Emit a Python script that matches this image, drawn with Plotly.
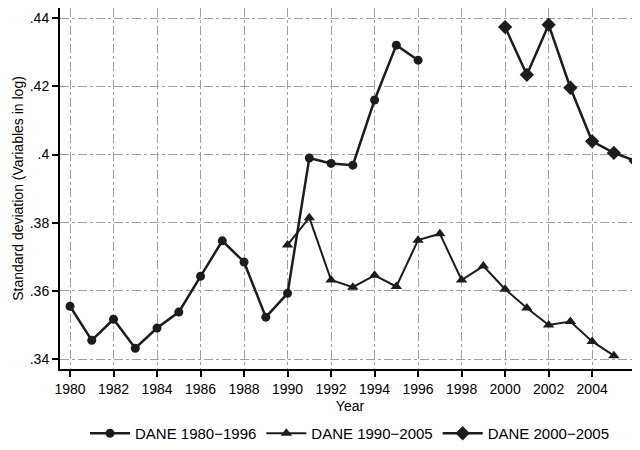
import plotly.graph_objects as go

years1 = list(range(1980, 1997))
vals1 = [0.3555, 0.3455, 0.3517, 0.3432, 0.3491, 0.3538, 0.3643, 0.3747, 0.3685,
         0.3523, 0.3593, 0.3990, 0.3974, 0.3969, 0.4160, 0.4321, 0.4277]

years2 = list(range(1990, 2006))
vals2 = [0.3735, 0.3815, 0.3632, 0.3611, 0.3646, 0.3613, 0.3749, 0.3768, 0.3632,
         0.3673, 0.3605, 0.3550, 0.3500, 0.3510, 0.3452, 0.3410]

years3 = list(range(2000, 2007))
vals3 = [0.4374, 0.4234, 0.4381, 0.4196, 0.4039, 0.4005, 0.3981]

names = ["DANE 1980\u22121996", "DANE 1990\u22122005", "DANE 2000\u22122005"]
xticks = list(range(1980, 2005, 2))
yticks = [0.34, 0.36, 0.38, 0.40, 0.42, 0.44]
yticklabels = [".34", ".36", ".38", ".4", ".42", ".44"]

col = "#1c1c1c"
fig = go.Figure()
fig.add_trace(go.Scatter(x=years1, y=vals1, name=names[0], mode="lines+markers",
                         line=dict(color=col, width=2.5),
                         marker=dict(symbol="circle", size=9, color=col)))
fig.add_trace(go.Scatter(x=years2, y=vals2, name=names[1], mode="lines+markers",
                         line=dict(color=col, width=2),
                         marker=dict(symbol="triangle-up", size=10, color=col)))
fig.add_trace(go.Scatter(x=years3, y=vals3, name=names[2], mode="lines+markers",
                         line=dict(color=col, width=2.5),
                         marker=dict(symbol="diamond", size=11, color=col)))

grid = dict(showgrid=True, gridcolor="#a0a0a0", griddash="dashdot", gridwidth=1)
fig.update_layout(
    width=632, height=442,
    margin=dict(l=52, r=0, t=0, b=73),
    paper_bgcolor="white", plot_bgcolor="white",
    font=dict(family="Liberation Sans, Arial, sans-serif", size=14, color="black"),
    showlegend=True,
    legend=dict(orientation="h", x=0.5, xanchor="center", y=-0.18, yanchor="middle",
                font=dict(size=15), itemwidth=40, tracegroupgap=0),
    xaxis=dict(range=[1979.54, 2006.2], tickvals=xticks, ticktext=[str(t) for t in xticks],
               ticks="outside", ticklen=6, tickwidth=1.5, tickcolor="black",
               showline=True, linecolor="black", linewidth=2, zeroline=False,
               automargin=False,
               title=dict(text="Year", standoff=5, font=dict(size=14)), **grid),
    yaxis=dict(range=[0.3371, 0.4430], tickvals=yticks, ticktext=yticklabels,
               ticks="outside", ticklen=6, tickwidth=1.5, tickcolor="black",
               showline=True, linecolor="black", linewidth=2, zeroline=False,
               automargin=False,
               title=dict(text="Standard deviation (Variables in log)", standoff=3, font=dict(size=14)),
               **grid),
)
fig.write_html("out.html")
